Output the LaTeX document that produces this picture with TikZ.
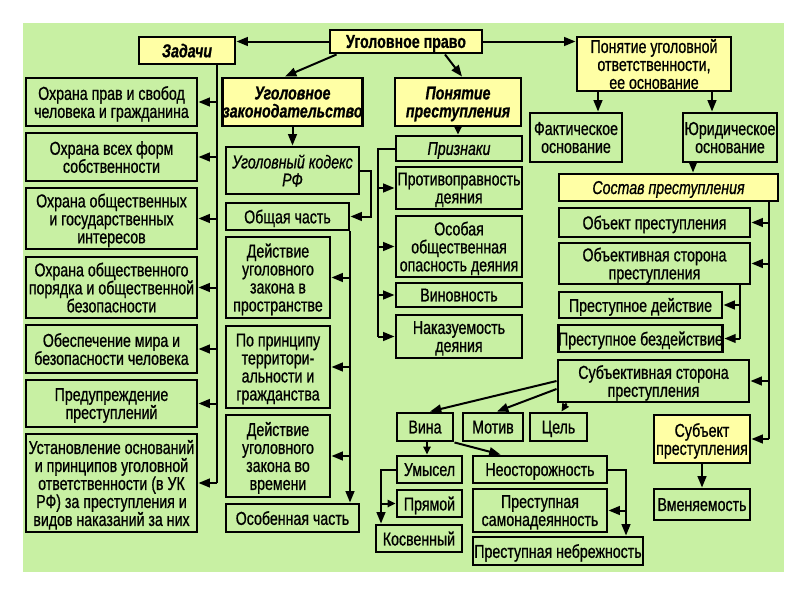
\documentclass[tikz,border=0pt]{standalone}
\usepackage{fontspec}
\setmainfont{Liberation Sans}[FakeStretch=0.76, FakeBold=0.8]
\usetikzlibrary{arrows.meta,calc}
\definecolor{bg}{RGB}{200,240,163}
\definecolor{yel}{RGB}{255,255,165}
\tikzset{
 box/.style={draw=black, line width=2.2pt, fill=bg, inner sep=0pt, align=center, text depth=0pt, font=\fontsize{14}{13.5}\selectfont},
 ybox/.style={box, fill=yel},
 bt/.style={font=\fontsize{14}{13.5}\selectfont\bfseries},
 bit/.style={font=\fontsize{14}{13.5}\selectfont\bfseries\itshape},
 it/.style={font=\fontsize{14}{13.5}\selectfont\itshape},
 conn/.style={line width=1.5pt},
 arr/.style={conn, -{Triangle[length=8.5pt,width=6.5pt]}},
 sarr/.style={conn, -{Triangle[length=6pt,width=5.5pt]}},
}
\newcommand\bx[7][]{\node[box,#1,minimum width={(#5-#3)*0.75pt}, minimum height={(#6-#4)*0.75pt}] (#2) at ({(#3+#5)/2},{(#4+#6)/2}) {#7};}
\begin{document}
\begin{tikzpicture}[x=0.75pt,y=-0.75pt]
\useasboundingbox (0,0) rectangle (800,600);
\fill[bg] (23,23) rectangle (784,572);
% top
\bx[ybox,bt]{up}{330}{30}{482}{53}{Уголовное право}
\bx[ybox,bit]{zad}{139}{37}{235}{64}{Задачи}
\bx[ybox,bit]{uz}{226}{78}{359}{126}{Уголовное\\законодательство}
\bx[ybox,bit]{pp}{395}{78}{521}{126}{Понятие\\преступления}
\bx[ybox]{puo}{577}{37}{731}{91}{Понятие уголовной\\ответственности,\\ее основание}
\bx{fakt}{530}{113}{622}{162}{Фактическое\\основание}
\bx{jur}{683}{113}{777}{162}{Юридическое\\основание}
\bx[ybox,it]{sost}{559}{174}{778}{201}{Состав преступления}
\bx{obj}{559}{208}{750}{237}{Объект преступления}
\bx{objs}{559}{243}{750}{284}{Объективная сторона\\преступления}
\bx{pd}{559}{292}{722}{318}{Преступное действие}
\bx{pb}{559}{325}{722}{352}{Преступное бездействие}
\bx{subs}{558}{360}{749}{402}{Субъективная сторона\\преступления}
\bx[ybox]{subj}{654}{415}{750}{463}{Субъект\\преступления}
\bx{vmen}{654}{489}{750}{520}{Вменяемость}
% left column
\bx{t1}{26}{78}{197}{126}{Охрана прав и свобод\\человека и гражданина}
\bx{t2}{26}{133}{197}{181}{Охрана всех форм\\собственности}
\bx{t3}{26}{188}{197}{249}{Охрана общественных\\и государственных\\интересов}
\bx{t4}{26}{257}{197}{318}{Охрана общественного\\порядка и общественной\\безопасности}
\bx{t5}{26}{325}{197}{373}{Обеспечение мира и\\безопасности человека}
\bx{t6}{26}{380}{197}{427}{Предупреждение\\преступлений}
\bx{t7}{26}{434}{197}{532}{Установление оснований\\и принципов уголовной\\ответственности (в УК\\РФ) за преступления и\\видов наказаний за них}
% law column
\bx[it]{uk}{226}{147}{359}{194}{Уголовный кодекс\\РФ}
\bx{obsh}{226}{203}{349}{230}{Общая часть}
\bx{d1}{226}{237}{330}{318}{Действие\\уголовного\\закона в\\пространстве}
\bx{d2}{226}{326}{330}{408}{По принципу\\территори-\\альности и\\гражданства}
\bx{d3}{226}{415}{330}{497}{Действие\\уголовного\\закона во\\времени}
\bx{osob}{226}{504}{359}{532}{Особенная часть}
% signs column
\bx[it]{priz}{396}{136}{522}{161}{Признаки}
\bx{p1}{396}{167}{522}{209}{Противоправность\\деяния}
\bx{p2}{396}{216}{522}{277}{Особая\\общественная\\опасность деяния}
\bx{p3}{396}{283}{522}{307}{Виновность}
\bx{p4}{396}{315}{522}{358}{Наказуемость\\деяния}
% lower
\bx{vina}{397}{413}{453}{441}{Вина}
\bx{motiv}{463}{413}{523}{441}{Мотив}
\bx{cel}{530}{413}{587}{441}{Цель}
\bx{umy}{397}{456}{462}{483}{Умысел}
\bx{neo}{473}{456}{607}{483}{Неосторожность}
\bx{pryam}{397}{490}{462}{517}{Прямой}
\bx{kosv}{376}{525}{462}{552}{Косвенный}
\bx{samo}{473}{489}{607}{532}{Преступная\\самонадеянность}
\bx{nebr}{473}{537}{643}{565}{Преступная небрежность}
% connectors
\draw[arr] (up.west) -- (up.west -| zad.east);
\draw[arr] ($(up.south west)+(8,0)$) -- ($(uz.north west)+(64,0)$);
\draw[arr] ($(up.south)+(39,0)$) -- ($(pp.north)+(4,0)$);
\draw[arr] (up.east) -- (up.east -| puo.west);
\coordinate (xf) at (598,0);
\coordinate (xj) at (712,0);
\coordinate (xs) at (693,0);
\draw[arr] (xf |- puo.south) -- (xf |- fakt.north);
\draw[arr] (xj |- puo.south) -- (xj |- jur.north);
\draw[arr] (xs |- jur.south) -- (xs |- sost.north);
\coordinate (xt) at (769,0);
\draw[conn] (xt |- sost.south) -- (xt |- subj.east);
\foreach \n in {obj,objs,subs,subj} \draw[arr] (xt |- \n.east) -- (\n.east);
\coordinate (xo) at (740,0);
\draw[conn] (xo |- objs.south) -- (xo |- pb.east);
\foreach \n in {pd,pb} \draw[arr] (xo |- \n.east) -- (\n.east);
\draw[arr] (subj.south) -- (subj.south |- vmen.north);
\draw[sarr] (pp.south) -- (pp.south |- priz.north);
\coordinate (xp) at (378,0);
\draw[conn] (priz.west) -- (xp |- priz.west) -- (xp |- p4.west);
\foreach \n in {p1,p2,p3,p4} \draw[arr] (xp |- \n.west) -- (\n.west);
\coordinate (xz) at (217,0);
\draw[conn] (xz |- zad.south) -- (xz |- t7.east);
\foreach \n in {t1,t2,t3,t4,t5,t6,t7} \draw[arr] (xz |- \n.east) -- (\n.east);
\draw[arr] (uz.south) -- (uz.south |- uk.north);
\draw[arr] (uk.east) -- ++(11,0) |- (obsh.east);
\coordinate (xg) at (350,0);
\draw[arr] (xg |- obsh.south) -- (xg |- osob.north);
\foreach \n in {d1,d2,d3} \draw[arr] (xg |- \n.east) -- (\n.east);
\draw[arr] (subs.west) -- ($(vina.north)+(5,0)$);
\draw[arr] ($(subs.west)+(0,8)$) -- ($(motiv.north)+(4,0)$);
\draw[sarr] ($(subs.south west)+(10,0)$) -- ($(cel.north)+(3,0)$);
\coordinate (xv) at (427,0);
\draw[sarr] (xv |- vina.south) -- (xv |- umy.north);
\draw[arr] (vina.south east) -- ($(neo.north west)+(29,0)$);
\coordinate (xn) at (626,0);
\draw[arr] (neo.east) -| (xn |- nebr.north);
\draw[arr] (xn |- samo.east) -- (samo.east);
\coordinate (xu) at (381,0);
\draw[arr] (umy.west) -| (xu |- kosv.north);
\draw[sarr] (xu |- pryam.west) -- (pryam.west);
\end{tikzpicture}
\end{document}
